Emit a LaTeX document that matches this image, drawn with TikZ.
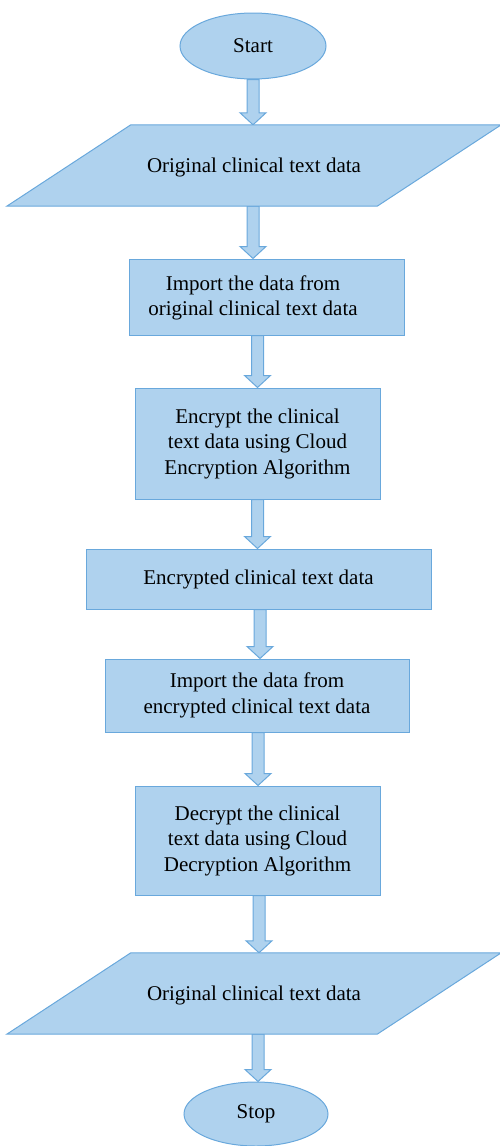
\documentclass[tikz,border=0pt]{standalone}
\usepackage{fontspec}
\setmainfont{Liberation Serif}
\usetikzlibrary{shapes.geometric,calc,backgrounds}
\definecolor{boxfill}{RGB}{175,210,238}
\definecolor{boxline}{RGB}{105,168,220}
\tikzset{
  base/.style={fill=boxfill, draw=boxline, line width=1pt, inner sep=0pt, align=center,
    font=\fontsize{21}{25.5}\selectfont, text=black},
  term/.style={base, ellipse, minimum width=146pt, minimum height=66pt},
  procbox/.style={base, rectangle},
  txt/.style={inner sep=0pt, align=center, font=\fontsize{21}{25.5}\selectfont},
  iobox/.style={inner sep=0pt, minimum width=370pt, minimum height=81pt},
  iofill/.style={fill=boxfill, draw=boxline, line width=1pt, line join=miter},
  barrowstyle/.style={fill=boxfill, draw=boxline, line width=1pt, line join=miter}
}
\newcommand\blockarrow[3]{%
  \draw[barrowstyle] let \p1=(#1.south), \p2=(#2.north) in
    ({\x1+(#3)-6pt},\y1) -- ({\x1+(#3)-6pt},{\y2+12pt}) -- ({\x1+(#3)-13pt},{\y2+12pt})
    -- ({\x1+(#3)},\y2) -- ({\x1+(#3)+13pt},{\y2+12pt}) -- ({\x1+(#3)+6pt},{\y2+12pt})
    -- ({\x1+(#3)+6pt},\y1) -- cycle;}
\begin{document}
\begin{tikzpicture}[x=1pt,y=-1pt]
\useasboundingbox (0,0) rectangle (499,1146);
\node[term] (start) at (253,46) {Start};
\node[iobox] (in1) at (254,165.5) {};
\draw[iofill] ([xshift=62pt]in1.north west) -- ([xshift=62pt]in1.north east)
  -- ([xshift=-62pt]in1.south east) -- ([xshift=-62pt]in1.south west) -- cycle;
\node[txt] (in1t) at (254,167) {Original clinical text data};
\node[procbox, minimum width=275pt, minimum height=76pt] (imp1) at (266.5,297) {};
\node[txt] (imp1t) at (253,298) {Import the data from\\original clinical text data};
\node[procbox, minimum width=245pt, minimum height=111pt] (enc) at (257.5,443.5)
  {Encrypt the clinical\\text data using Cloud\\Encryption Algorithm};
\node[procbox, minimum width=345pt, minimum height=60pt] (encd) at (258.5,579)
  {Encrypted clinical text data};
\node[procbox, minimum width=304pt, minimum height=73pt] (imp2) at (257,695.5)
  {Import the data from\\encrypted clinical text data};
\node[procbox, minimum width=245pt, minimum height=109pt] (dec) at (257.5,840.5)
  {Decrypt the clinical\\text data using Cloud\\Decryption Algorithm};
\node[iobox] (in2) at (254,993.5) {};
\draw[iofill] ([xshift=62pt]in2.north west) -- ([xshift=62pt]in2.north east)
  -- ([xshift=-62pt]in2.south east) -- ([xshift=-62pt]in2.south west) -- cycle;
\node[txt] (in2t) at (254,995) {Original clinical text data};
\node[term, minimum width=144pt, minimum height=64pt] (stop) at (256,1114) {Stop};
\begin{scope}[on background layer]
\blockarrow{start}{in1}{0pt}
\blockarrow{in1}{imp1}{-1pt}
\blockarrow{imp1}{enc}{-9pt}
\blockarrow{enc}{encd}{0pt}
\blockarrow{encd}{imp2}{1.5pt}
\blockarrow{imp2}{dec}{1pt}
\blockarrow{dec}{in2}{1.5pt}
\blockarrow{in2}{stop}{4pt}
\end{scope}
\end{tikzpicture}
\end{document}
